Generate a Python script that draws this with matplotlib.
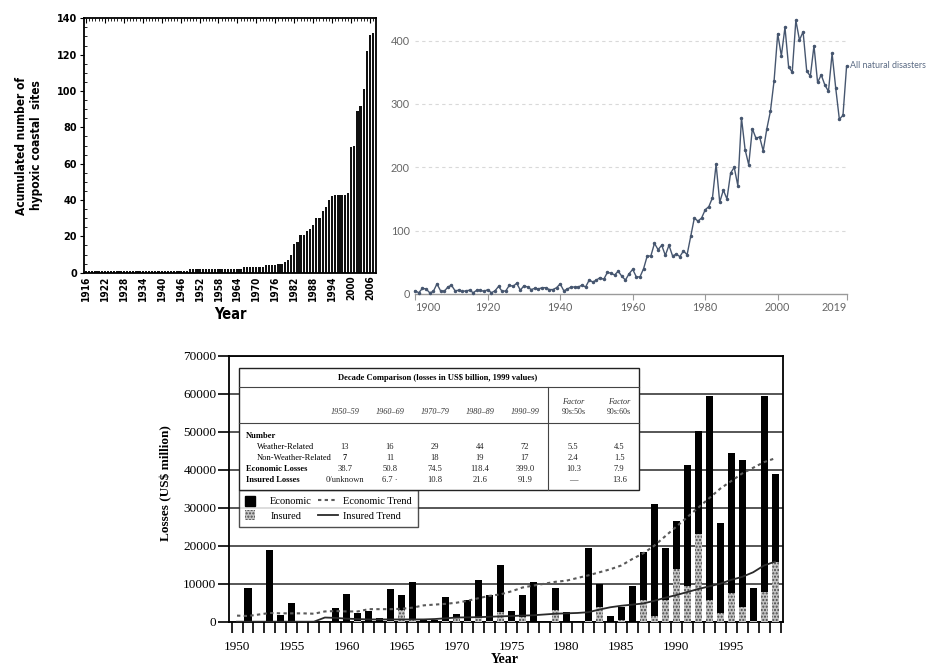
import matplotlib
matplotlib.use('Agg')
import matplotlib.pyplot as plt
from matplotlib import font_manager as fm
from matplotlib.ticker import MultipleLocator, FixedLocator
from matplotlib.patches import Patch, Rectangle
from matplotlib.lines import Line2D
from matplotlib.legend_handler import HandlerPatch

# ---------------- data ----------------
# Panel 1: accumulated number of hypoxic coastal sites
hyp_years = list(range(1916, 2008))
hyp_sites = [1, 1, 1, 1, 1, 1, 1, 1, 1, 1, 1, 1, 1, 1, 1, 1, 1, 1, 1, 1,   # 1916-1935
             1, 1, 1, 1, 1, 1, 1, 1, 1, 1, 1, 1, 1,                        # 1936-1948
             2, 2, 2, 2, 2, 2, 2, 2, 2, 2, 2, 2, 2, 2, 2, 2, 2,            # 1949-1965
             3, 3, 3, 3, 3, 3, 3,                                          # 1966-1972
             4, 4, 4, 4,                                                   # 1973-1976
             5, 5, 6, 7, 10, 16, 17, 21, 21, 23, 24, 26, 30, 30, 34, 36,   # 1977-1992
             40, 42, 43, 43, 43, 43, 44, 69, 70, 89, 92, 101, 122, 131, 132]  # 1993-2007
hyp_ticks = [1916, 1922, 1928, 1934, 1940, 1946, 1952, 1958, 1964, 1970,
             1976, 1982, 1988, 1994, 2000, 2006]

# Panel 2: number of reported natural disasters
dis_years = list(range(1900, 2020))
dis_counts = [5, 2, 9, 8, 2, 4, 16, 5, 4, 11,
              14, 5, 6, 4, 5, 6, 2, 6, 6, 4,
              7, 2, 5, 12, 4, 5, 14, 12, 17, 6,
              13, 11, 7, 9, 8, 10, 10, 7, 7, 10,
              16, 5, 8, 11, 11, 11, 14, 11, 22, 19,
              22, 26, 23, 34, 33, 30, 36, 28, 22, 32,
              39, 27, 27, 40, 60, 60, 80, 70, 77, 61,
              77, 60, 63, 59, 68, 62, 91, 120, 115, 120,
              133, 138, 152, 205, 145, 164, 150, 191, 200, 171,
              278, 228, 204, 261, 246, 248, 226, 261, 289, 337,
              411, 376, 421, 359, 350, 432, 401, 414, 352, 344,
              392, 334, 346, 330, 320, 380, 325, 276, 282, 360]
dis_ticks = [1900, 1920, 1940, 1960, 1980, 2000, 2019]
dis_label = "All natural disasters"

# Panel 3: economic and insured losses (US$ million, 1999 values)
loss_years = list(range(1950, 2000))
econ = [0, 8800, 0, 19000, 1800, 4900, 0, 0, 0, 3600,
        7300, 2200, 2900, 900, 8500, 7100, 10400, 800, 500, 6500,
        2100, 5800, 11000, 7100, 15000, 2700, 7100, 10500, 0, 9000,
        2500, 0, 19300, 9800, 1500, 4000, 9300, 18300, 31000, 19400,
        26500, 41200, 50200, 59300, 26000, 44500, 42500, 9000, 59300, 39000]
insured = [0, 0, 0, 0, 0, 0, 0, 0, 0, 0,
           0, 300, 0, 0, 300, 3000, 500, 0, 0, 300,
           1000, 300, 1000, 200, 2500, 300, 1200, 0, 0, 3000,
           0, 0, 300, 4000, 0, 500, 0, 5700, 1500, 5800,
           14000, 9400, 23000, 5700, 2200, 7500, 4000, 300, 7700, 15800]
econ_trend = [1600, 1500, 1900, 2300, 2200, 2200, 2200, 2100, 2700, 2800,
              2700, 2700, 3300, 3300, 3300, 3400, 3700, 4300, 4500, 4700,
              5000, 5500, 6200, 6800, 7200, 8000, 9000, 9500, 10000, 10500,
              10800, 11500, 12200, 13000, 13800, 14800, 16500, 18000, 20000, 22500,
              25000, 27500, 30000, 32500, 35000, 37000, 39000, 40500, 42000, 43000]
insured_trend = [0, 0, 0, 0, 0, 0, 0, 0, 1100, 1000,
                 800, 700, 600, 600, 600, 600, 600, 600, 700, 900,
                 1100, 1150, 1200, 1300, 1400, 1500, 1600, 1700, 1900, 2100,
                 2200, 2300, 2500, 3200, 3800, 4200, 4500, 4800, 5500, 6300,
                 7000, 7800, 8600, 9300, 10000, 11000, 11800, 13000, 14800, 15800]
loss_ticks = [1950, 1955, 1960, 1965, 1970, 1975, 1980, 1985, 1990, 1995]
loss_yticks = [0, 10000, 20000, 30000, 40000, 50000, 60000, 70000]

table_title = "Decade Comparison (losses in US$ billion, 1999 values)"
table_cols = ["1950\u201359", "1960\u201369", "1970\u201379", "1980\u201389", "1990\u201399"]
table_factor_cols = ["90s:50s", "90s:60s"]
table_rows = ["Weather-Related", "Non-Weather-Related", "Economic Losses", "Insured Losses"]
table_values = [["13", "16", "29", "44", "72", "5.5", "4.5"],
                ["7", "11", "18", "19", "17", "2.4", "1.5"],
                ["38.7", "50.8", "74.5", "118.4", "399.0", "10.3", "7.9"],
                ["0/unknown", "6.7 \u00b7", "10.8", "21.6", "91.9", "\u2014", "13.6"]]

# ---------------- figure ----------------
W, H = 937, 668
fig = plt.figure(figsize=(W / 100, H / 100), dpi=100)
fig.patch.set_facecolor('white')

names = {f.name for f in fm.fontManager.ttflist}
owid = 'Lato' if 'Lato' in names else 'DejaVu Sans'
serif = 'Liberation Serif'

# look for a condensed / narrow bold face for the first panel
cond_path = None
prefs = ['dejavusanscondensed-bold', 'liberationsansnarrow-bold', 'condensed-bold',
         'condensedbold', 'narrow-bold']
files = [f.fname for f in fm.fontManager.ttflist]
for key in prefs:
    for p in files:
        base = p.lower().split('/')[-1]
        if key in base and 'oblique' not in base and 'italic' not in base:
            cond_path = p
            break
    if cond_path:
        break


def cfont(size):
    if cond_path:
        return fm.FontProperties(fname=cond_path, size=size)
    return fm.FontProperties(family='DejaVu Sans', weight='bold', size=size)


def ax_px(l, t, r, b, **kw):
    return fig.add_axes([l / W, 1 - b / H, (r - l) / W, (b - t) / H], **kw)


# ---------- Panel 1 ----------
ax1 = ax_px(84, 18.3, 376, 272.7)
ax1.bar(hyp_years, hyp_sites, width=0.72, color='#111111', edgecolor='none')
ax1.set_xlim(1915.4, 2007.9)
ax1.set_ylim(0, 140)
ax1.set_xticks(hyp_ticks)
ax1.set_xticklabels([str(t) for t in hyp_ticks], rotation=90, fontproperties=cfont(7.2))
ax1.xaxis.set_minor_locator(MultipleLocator(1))
ax1.tick_params(axis='x', which='major', top=True, bottom=False, direction='in',
                length=3.5, width=0.8, pad=2)
ax1.tick_params(axis='x', which='minor', top=True, bottom=False, direction='in',
                length=2, width=0.6)
ax1.set_yticks([0, 20, 40, 60, 80, 100, 120, 140])
ax1.yaxis.set_minor_locator(MultipleLocator(5))
ax1.tick_params(axis='y', which='major', direction='out', length=3, width=0.8, pad=2)
ax1.tick_params(axis='y', which='minor', direction='in', length=2, width=0.6)
for lab in ax1.get_yticklabels():
    lab.set_fontweight('bold')
    lab.set_fontsize(7)
for s in ax1.spines.values():
    s.set_linewidth(1.3)
ax1.set_xlabel('Year', fontproperties=cfont(10.5), labelpad=4)
ax1.set_ylabel('Acumulated number of\nhypoxic coastal  sites', fontproperties=cfont(8.6),
               labelpad=10, linespacing=1.2)

# ---------- Panel 2 ----------
navy = '#46566f'
ax2 = ax_px(415.2, 9, 846.6, 294)
ax2.set_xlim(1900, 2019)
ax2.set_ylim(0, 450)
for v in [100, 200, 300, 400]:
    ax2.axhline(v, color='#d9d9d9', lw=0.8, ls=(0, (3, 3)), zorder=0)
ax2.plot(dis_years, dis_counts, color=navy, lw=1.0, marker='o', ms=1.5, zorder=3,
         clip_on=False)
ax2.text(dis_years[-1] + 1.0, dis_counts[-1], dis_label, color='#5b6b84',
         fontsize=6.4, family=owid, va='center', ha='left')
for side in ['top', 'right', 'left']:
    ax2.spines[side].set_visible(False)
ax2.spines['bottom'].set_color('#9a9a9a')
ax2.spines['bottom'].set_linewidth(1.0)
ax2.set_xticks(dis_ticks)
ax2.set_xticklabels([str(t) for t in dis_ticks], fontsize=7.8, color='#666666', family=owid)
xl = ax2.get_xticklabels()
xl[0].set_ha('left')
xl[-1].set_ha('right')
ax2.tick_params(axis='x', length=4, color='#9a9a9a', width=0.8, pad=2)
ax2.set_yticks([0, 100, 200, 300, 400])
ax2.set_yticklabels(['0', '100', '200', '300', '400'], fontsize=7.8, color='#666666',
                    family=owid)
ax2.tick_params(axis='y', length=0, pad=4)

# ---------- Panel 3 ----------
ax3 = ax_px(229, 355.7, 783.3, 621.7)
ax3.set_xlim(1949.27, 1999.75)
ax3.set_ylim(0, 70000)
ax3.yaxis.grid(True, color='#3a3a3a', lw=1.2)
ax3.set_axisbelow(True)
ax3.bar(loss_years, econ, width=0.64, color='black', zorder=3)
ax3.bar(loss_years, insured, width=0.64, facecolor='#c4c4c4', edgecolor='#4a4a4a',
        hatch='.....', lw=0, zorder=4)
ax3.plot(loss_years, econ_trend, color='#5a5a5a', lw=1.5, ls=(0, (1.6, 1.6)), zorder=5)
ax3.plot(loss_years, insured_trend, color='#2a2a2a', lw=1.3, zorder=5)
ax3.set_yticks(loss_yticks)
ax3.set_yticklabels([str(v) for v in loss_yticks], family=serif, fontsize=9.5)
ax3.tick_params(axis='y', length=8, width=1.2, pad=1, direction='out')
ax3.set_xticks(loss_ticks)
ax3.set_xticklabels([str(v) for v in loss_ticks], family=serif, fontsize=9.5)
ax3.xaxis.set_minor_locator(FixedLocator([y - 0.5 for y in loss_years] + [1999.5]))
ax3.tick_params(axis='x', which='major', length=0, pad=14)
ax3.tick_params(axis='x', which='minor', length=8, width=1.2, direction='out')
for s in ax3.spines.values():
    s.set_linewidth(1.3)
ax3.set_ylabel('Losses (US$ million)', family=serif, fontweight='bold', fontsize=9.5)
ax3.yaxis.set_label_coords(-0.103, 0.52)
ax3.set_xlabel('Year', family=serif, fontweight='bold', fontsize=10)
ax3.xaxis.label.set_va('center')
ax3.xaxis.set_label_coords(0.497, -0.142)


def square(legend, orig_handle, xdescent, ydescent, width, height, fontsize):
    s = height * 1.15
    return Rectangle((-xdescent, -ydescent + (height - s) / 2), s, s)


handles = [Patch(facecolor='black', edgecolor='black'),
           Patch(facecolor='#c4c4c4', edgecolor='#4a4a4a', hatch='.....', lw=0),
           Line2D([], [], color='#5a5a5a', lw=1.5, ls=(0, (1.6, 1.6))),
           Line2D([], [], color='#2a2a2a', lw=1.3)]
labels = ['Economic', 'Insured', 'Economic Trend', 'Insured Trend']
leg = ax3.legend(handles, labels, ncol=2, loc='upper left',
                 bbox_to_anchor=((239 - 229) / 554.3, (621.7 - 490) / 266),
                 borderaxespad=0, frameon=True, fancybox=False, edgecolor='#222222',
                 prop={'family': serif, 'size': 7.5}, handlelength=1.9, handleheight=0.9,
                 columnspacing=0.6, labelspacing=0.45, borderpad=0.6, handletextpad=0.5,
                 handler_map={handles[0]: HandlerPatch(patch_func=square),
                              handles[1]: HandlerPatch(patch_func=square)})
leg.get_frame().set_linewidth(1.0)
leg.set_zorder(10)

# decade comparison table (overlay in pixel space)
ov = fig.add_axes([0, 0, 1, 1], zorder=5)
ov.set_xlim(0, W)
ov.set_ylim(H, 0)
ov.axis('off')
ov.add_patch(Rectangle((239, 368.3), 400, 121.7, facecolor='white', edgecolor='#222222',
                       lw=1.0))
ov.plot([239, 639], [386.7, 386.7], color='#444444', lw=0.8)
ov.plot([239, 639], [423.3, 423.3], color='#444444', lw=0.8)
ov.plot([548.3, 548.3], [386.7, 490], color='#444444', lw=0.8)
ov.text(438, 378.3, table_title, family=serif, fontweight='bold', fontsize=6.1,
        ha='center', va='center')
col_x = [345, 390, 435, 480, 525, 573.3, 619.3]
for x, c in zip(col_x[:5], table_cols):
    ov.text(x, 412.3, c, family=serif, style='italic', fontsize=5.9, ha='center', va='center',
            color='#333333')
for x, c in zip(col_x[5:], table_factor_cols):
    ov.text(x, 401.7, 'Factor', family=serif, style='italic', fontsize=5.9, ha='center',
            va='center', color='#333333')
    ov.text(x, 412.3, c, family=serif, fontsize=5.7, ha='center', va='center',
            color='#333333')
ov.text(246, 435.7, 'Number', family=serif, fontweight='bold', fontsize=6.1, va='center')
row_y = [446.7, 457.7, 469.0, 480.0]
row_x = [256.7, 256.7, 246, 246]
row_bold = [False, False, True, True]
for y, x, name, b, vals in zip(row_y, row_x, table_rows, row_bold, table_values):
    ov.text(x, y, name, family=serif, fontsize=6.1, va='center',
            fontweight='bold' if b else 'normal')
    for i, (cx, v) in enumerate(zip(col_x, vals)):
        bold = (name == 'Non-Weather-Related' and i == 0)
        ov.text(cx, y, v, family=serif, fontsize=6.1, ha='center', va='center',
                fontweight='bold' if bold else 'normal', color='#222222')

fig.savefig('out.png', dpi=100, facecolor='white')
